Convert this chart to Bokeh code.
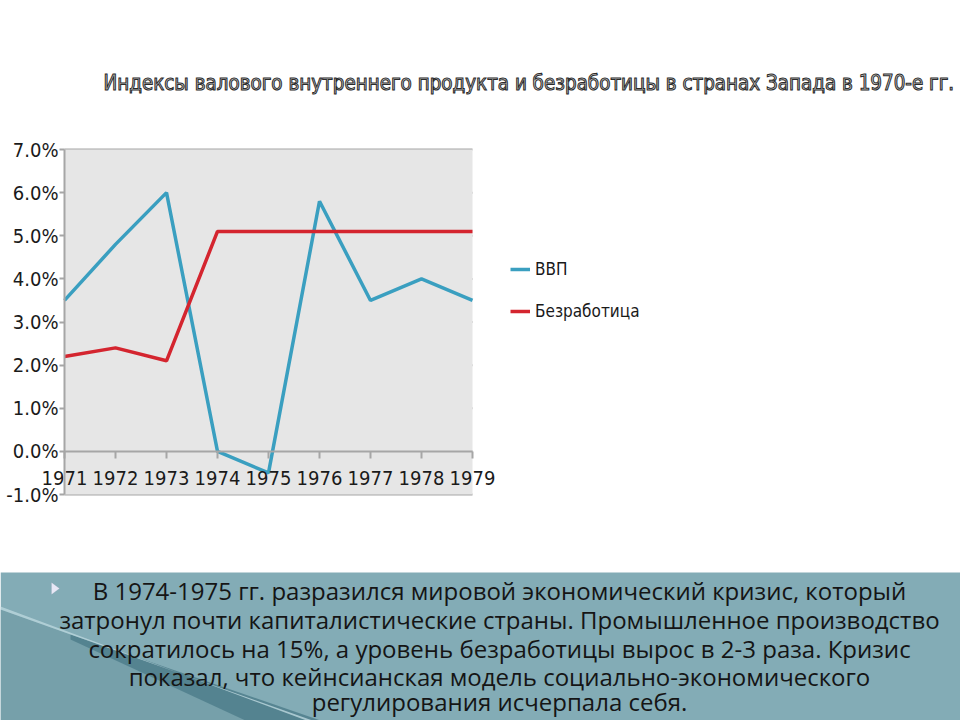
from bokeh.plotting import figure
from bokeh.models import (Range1d, Legend, LegendItem, FixedTicker, PrintfTickFormatter,
                          LinearAxis, Label, BoxAnnotation, PolyAnnotation)
from bokeh.embed import file_html
from bokeh.resources import INLINE

# ---- data ----
years = [1971, 1972, 1973, 1974, 1975, 1976, 1977, 1978, 1979]
gdp = [3.5, 4.8, 6.0, 0.0, -0.5, 5.8, 3.5, 4.0, 3.5]
unemployment = [2.2, 2.4, 2.1, 5.1, 5.1, 5.1, 5.1, 5.1, 5.1]
y_ticks = [-1, 0, 1, 2, 3, 4, 5, 6, 7]
series_names = ["ВВП", "Безработица"]
title_text = "Индексы валового внутреннего продукта и безработицы в странах Запада в 1970-е гг."
body_lines = [
    "В 1974-1975 гг. разразился мировой экономический кризис, который",
    "затронул почти капиталистические страны. Промышленное производство",
    "сократилось на 15%, а уровень безработицы вырос в 2-3 раза. Кризис",
    "показал, что кейнсианская модель социально-экономического",
    "регулирования исчерпала себя.",
]

CHART_FONT = "DejaVu Sans Condensed"
W, H = 960, 720
# pixel box of the chart area inside the canvas
PX_L, PX_R, PX_T, PX_B = 64, 472, 149, 494

x0, x1 = years[0], years[-1]
y0, y1 = y_ticks[0], y_ticks[-1]
sx = (PX_R - PX_L) / (x1 - x0)
sy = (PX_B - PX_T) / (y1 - y0)
xr = Range1d(x0 - PX_L / sx, x1 + (W - PX_R) / sx)
yr = Range1d(y0 - (H - PX_B) / sy, y1 + PX_T / sy)

p = figure(width=W, height=H, x_range=xr, y_range=yr, output_backend="svg",
           toolbar_location=None, min_border=0, x_axis_location=None, y_axis_location=None)
p.background_fill_color = "white"
p.border_fill_color = "white"
p.outline_line_color = None
p.grid.visible = False

# chart area background
p.add_layout(BoxAnnotation(left=x0, right=x1, bottom=y0, top=y1, fill_color="#e6e6e6",
                           fill_alpha=1.0, line_color=None, level="underlay"))
# horizontal grid lines
p.segment(x0=[x0] * len(y_ticks), x1=[x1] * len(y_ticks), y0=y_ticks, y1=y_ticks,
          line_color="#a6a6a6", line_width=2, level="underlay")

yaxis = LinearAxis(ticker=FixedTicker(ticks=y_ticks), fixed_location=x0, bounds=(y0, y1),
                   formatter=PrintfTickFormatter(format="%.1f%%"))
yaxis.axis_line_color = "#a6a6a6"
yaxis.axis_line_width = 2
yaxis.major_tick_line_color = "#a6a6a6"
yaxis.major_tick_line_width = 2
yaxis.major_tick_out = 5
yaxis.major_tick_in = 0
yaxis.minor_tick_line_color = None
yaxis.major_label_standoff = 1
yaxis.major_label_text_font = CHART_FONT
yaxis.major_label_text_font_size = "20px"
yaxis.major_label_text_color = "#1a1a1a"
p.add_layout(yaxis, "left")

xaxis = LinearAxis(ticker=FixedTicker(ticks=years), fixed_location=0, bounds=(x0, x1))
xaxis.axis_line_color = "#a6a6a6"
xaxis.axis_line_width = 2
xaxis.major_tick_line_color = "#a6a6a6"
xaxis.major_tick_line_width = 2
xaxis.major_tick_out = 7
xaxis.major_tick_in = 0
xaxis.minor_tick_line_color = None
xaxis.major_label_standoff = 13
xaxis.major_label_text_font = CHART_FONT
xaxis.major_label_text_font_size = "20px"
xaxis.major_label_text_color = "#1a1a1a"
p.add_layout(xaxis, "below")

r_gdp = p.line(years, gdp, line_color="#3a9fc0", line_width=3.5)
r_un = p.line(years, unemployment, line_color="#d4252f", line_width=3.5)

legend = Legend(items=[LegendItem(label=series_names[0], renderers=[r_gdp]),
                       LegendItem(label=series_names[1], renderers=[r_un])],
                location=(510, 399), orientation="vertical")
legend.background_fill_alpha = 0
legend.border_line_color = None
legend.padding = 0
legend.margin = 0
legend.spacing = 22
legend.glyph_width = 20
legend.glyph_height = 20
legend.label_height = 20
legend.label_standoff = 5
legend.label_text_font = CHART_FONT
legend.label_text_font_size = "17px"
legend.label_text_color = "#1a1a1a"
p.add_layout(legend, "center")

# title
p.add_layout(Label(x=103, y=82, x_units="canvas", y_units="canvas", text=title_text,
                   text_font=CHART_FONT, text_font_size="20.4px", text_color="#dcdcdc",
                   text_outline_color="#2a2a2a", text_align="left", text_baseline="middle"))

# bottom panel
p.add_layout(BoxAnnotation(left=0, right=W, top=572, bottom=H, left_units="canvas",
                           right_units="canvas", top_units="canvas", bottom_units="canvas",
                           fill_color="#83acb6", fill_alpha=1.0, line_color=None))
p.add_layout(PolyAnnotation(xs=[0, 310, 0], ys=[609, 720, 720],
                            xs_units="canvas", ys_units="canvas",
                            fill_color="#76a0aa", fill_alpha=1.0, line_color=None))
p.add_layout(PolyAnnotation(xs=[70, 320, 245, 70], ys=[634, 720, 720, 639],
                            xs_units="canvas", ys_units="canvas",
                            fill_color="#4c7c89", fill_alpha=0.8, line_color=None))
p.add_layout(PolyAnnotation(xs=[0, 306, 312, 0], ys=[606, 720, 720, 609],
                            xs_units="canvas", ys_units="canvas",
                            fill_color="#b7d3da", fill_alpha=0.85, line_color=None))
p.add_layout(PolyAnnotation(xs=[51, 59, 51], ys=[582, 588, 594],
                            xs_units="canvas", ys_units="canvas",
                            fill_color="#e8e8f6", fill_alpha=1.0, line_color="#8a8aa8",
                            line_width=0.5))
ys = [590, 619, 648, 676, 701]
for txt, yy in zip(body_lines, ys):
    p.add_layout(Label(x=499, y=yy, x_units="canvas", y_units="canvas", text=txt,
                       text_font="Open Sans", text_font_size="24px", text_color="#151515",
                       text_align="center", text_baseline="middle"))

open("out.html", "w").write(file_html(p, INLINE))
